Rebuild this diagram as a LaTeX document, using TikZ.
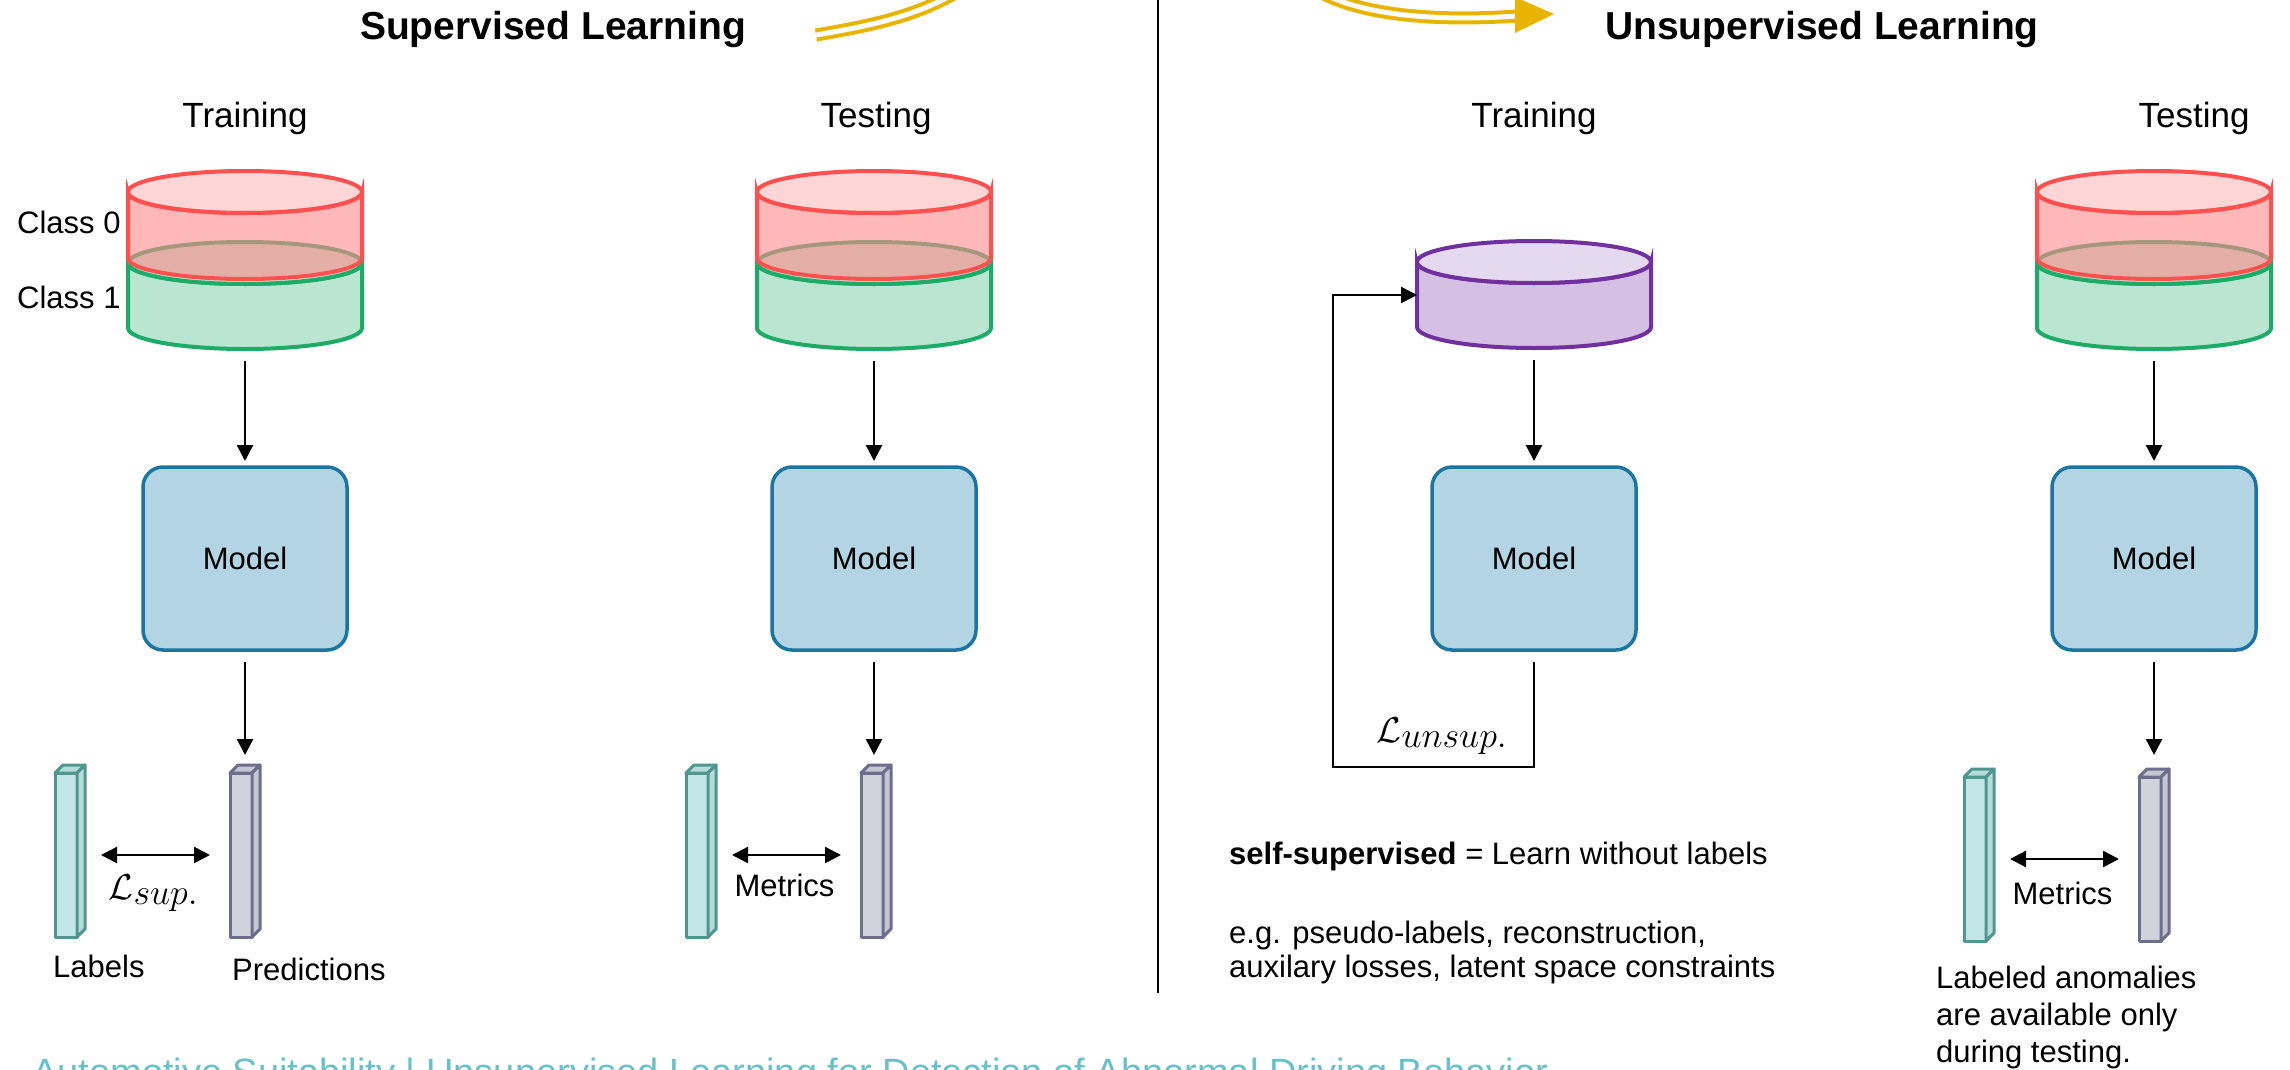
\RequirePackage{fix-cm}
\documentclass[tikz,border=0pt]{standalone}
\usepackage{fontspec}
\setmainfont{Liberation Sans}
\usetikzlibrary{arrows.meta,positioning}

% Colores
\definecolor{rojoborde}{HTML}{FF5050}
\definecolor{rojocuerpo}{HTML}{FF8A8A}
\definecolor{rojotapa}{HTML}{FFBBBB}
\definecolor{verdeborde}{HTML}{1DAC68}
\definecolor{verdecuerpo}{HTML}{BAE5D1}
\definecolor{lilaborde}{HTML}{7030A0}
\definecolor{lilacuerpo}{HTML}{D5C0E3}
\definecolor{lilatapa}{HTML}{E4D9EE}
\definecolor{modeloborde}{HTML}{1A76A0}
\definecolor{modelofondo}{HTML}{B3D4E2}
\definecolor{turqborde}{HTML}{50968F}
\definecolor{turqcara}{HTML}{C2E6E6}
\definecolor{turqlado}{HTML}{B5DBDA}
\definecolor{grisborde}{HTML}{6E6E8C}
\definecolor{griscara}{HTML}{D2D2DC}
\definecolor{grislado}{HTML}{C6C6D2}
\definecolor{amarillo}{HTML}{E8B400}
\definecolor{pie}{HTML}{66C2C8}

\tikzset{
  modelo/.style={draw=modeloborde, fill=modelofondo, line width=3.5pt, rounded corners=20pt,
    minimum width=204pt, minimum height=183pt, outer sep=0pt},
  barra/.style={line width=3pt, minimum width=22pt, minimum height=164pt, outer sep=0pt, line join=round},
  etiq/.style={barra, draw=turqborde, fill=turqcara},
  pred/.style={barra, draw=grisborde, fill=griscara},
  perdida/.style={font=\fontsize{36pt}{40pt}\selectfont},
  flecha/.style={-{Triangle[length=16pt,width=16pt]}, line width=2.5pt},
  doble/.style={{Triangle[length=16pt,width=16pt]}-{Triangle[length=16pt,width=16pt]}, line width=2.5pt,
    shorten <=24pt, shorten >=20pt},
}

% Cilindro: x, y tapa, y base, borde, cuerpo, tapa
\newcommand{\cilindro}[6]{%
  \filldraw[line width=4pt, draw=#4, fill=#5] (#1-117,#2) -- (#1-117,#3)
    arc[start angle=180, end angle=0, x radius=117, y radius=21] -- (#1+117,#2)
    arc[start angle=0, end angle=180, x radius=117, y radius=21] -- cycle;
  \filldraw[line width=4pt, draw=#4, fill=#6] (#1,#2) ellipse [x radius=117, y radius=21];
}
% Caras de la barra: nodo, borde, relleno
\newcommand{\prisma}[3]{%
  \filldraw[line width=3pt, line join=round, draw=#2, fill=#3]
    (#1.north west) -- ++(8,-8) -- ++(22,0) -- (#1.north east) -- cycle;
  \filldraw[line width=3pt, line join=round, draw=#2, fill=#3]
    (#1.north east) -- ++(8,-8) -- ++(0,164) -- (#1.south east) -- cycle;
}

\begin{document}
\begin{tikzpicture}[x=1pt, y=-1pt, inner sep=0pt, font=\fontsize{31pt}{37pt}\selectfont]
  \useasboundingbox (0,0) rectangle (2290,1070);
  \clip (0,0) rectangle (2290,1070);
  \fill[white] (0,0) rectangle (2290,1070);

  % Titulos
  \node[anchor=base, font=\fontsize{39pt}{44pt}\selectfont\bfseries] (tsup) at (553,40) {Supervised Learning};
  \node[anchor=base, font=\fontsize{39pt}{44pt}\selectfont\bfseries] (tunsup) at (1822,40) {Unsupervised Learning};

  % Flecha amarilla
  \draw[line width=4pt, draw=amarillo, double=white, double distance=5pt]
    (816,35) .. controls (875,25) and (920,15) .. (960,-10)
    .. controls (1050,-70) and (1230,-70) .. (1320,-8)
    .. controls (1360,14) and (1430,22) .. (1517,16);
  \fill[amarillo] (1515,-3) -- (1554,14) -- (1515,33) -- cycle;

  % Separador
  \draw[line width=2.5pt] (1158,0) -- (1158,993);

  % Encabezados
  \foreach \x/\txt/\nom in {245/Training/h1, 876/Testing/h2, 1534/Training/h3, 2194/Testing/h4}
    \node[anchor=base, font=\fontsize{35pt}{40pt}\selectfont] (\nom) at (\x,128) {\txt};

  % Datos
  \foreach \x in {245,874,2154} {
    \cilindro{\x}{263}{328}{verdeborde}{verdecuerpo}{verdecuerpo}
    \begin{scope}[fill opacity=.6]
      \cilindro{\x}{192}{258}{rojoborde}{rojocuerpo}{rojotapa}
    \end{scope}
  }
  \cilindro{1534}{262}{327}{lilaborde}{lilacuerpo}{lilatapa}
  \coordinate (c1) at (245,349);
  \coordinate (c2) at (874,349);
  \coordinate (c3) at (1534,348);
  \coordinate (c4) at (2154,349);
  \coordinate (c3w) at (1417,295);

  \node[anchor=west] (k0) at (17,222) {Class 0};
  \node[anchor=west] (k1) at (17,297) {Class 1};

  % Modelos
  \foreach \x/\nom in {245/m1, 874/m2, 1534/m3, 2154/m4}
    \node[modelo] (\nom) at (\x,558.5) {Model};
  \foreach \i in {1,2,3,4}
    \draw[flecha, shorten <=12pt, shorten >=6pt] (c\i) -- (m\i);

  % Barras
  \node[etiq] (e1) at (66,855) {};
  \node[pred] (p1) at (241,855) {};
  \node[etiq] (e2) at (697,855) {};
  \node[pred] (p2) at (872,855) {};
  \node[etiq] (e3) at (1975,859) {};
  \node[pred] (p3) at (2150,859) {};
  \foreach \i in {1,2,3} {
    \prisma{e\i}{turqborde}{turqlado}
    \prisma{p\i}{grisborde}{grislado}
  }

  \draw[flecha, shorten <=12pt, shorten >=18pt] (m1.south) -- (m1.south |- p1.north);
  \draw[flecha, shorten <=12pt, shorten >=18pt] (m2.south) -- (m2.south |- p2.north);
  \draw[flecha, shorten <=12pt, shorten >=22pt] (m4.south) -- (m4.south |- p3.north);

  \draw[doble] (e1) -- node[perdida, yshift=-38pt] (lsup) {$\mathcal{L}_{\textstyle sup.}$} (p1);
  \draw[doble] (e2) -- node[yshift=-30pt] (met1) {Metrics} (p2);
  \draw[doble] (e3) -- node[yshift=-34pt] (met2) {Metrics} (p3);

  \node[anchor=base west] (tlab) at (53,977) {Labels};
  \node[anchor=base west] (tpred) at (232,980) {Predictions};

  % Lazo no supervisado
  \coordinate (lazo) at (1333,767);
  \draw[flecha, shorten <=12pt] (m3.south) |- (lazo) |- (c3w);
  \node[perdida] (lunsup) at (1442,736) {$\mathcal{L}_{\textstyle unsup.}$};

  % Notas
  \node[anchor=base west] (nota1) at (1229,864) {\textbf{self-supervised} = Learn without labels};
  \node[anchor=north west, align=left, font=\fontsize{31pt}{34pt}\selectfont] (nota2) at (1229,921)
    {e.g. pseudo-labels, reconstruction,\\auxilary losses, latent space constraints};
  \node[anchor=north west, align=left] (nota3) at (1936,966)
    {Labeled anomalies\\are available only\\during testing.};

  % Pie
  \node[anchor=base west, text=pie, font=\fontsize{38pt}{44pt}\selectfont] (pie) at (32,1085)
    {Automotive Suitability | Unsupervised Learning for Detection of Abnormal Driving Behavior};
\end{tikzpicture}
\end{document}
